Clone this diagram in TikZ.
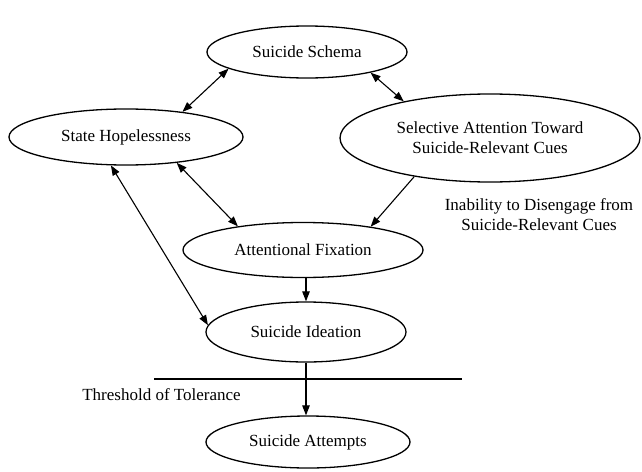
\documentclass[tikz,border=0pt]{standalone}
\usepackage{fontspec}
\setmainfont{Liberation Serif}[Scale=1.0]
\usetikzlibrary{shapes.geometric,arrows.meta}
\begin{document}
\begin{tikzpicture}[x=1pt,y=-1pt,
  oval/.style={ellipse,draw,line width=1.3pt,inner sep=0pt,align=center,
    font=\rmfamily\fontsize{17}{20}\selectfont},
  lbl/.style={align=center,font=\rmfamily\fontsize{17}{20}\selectfont,inner sep=0pt},
  tip/.tip={Triangle[length=10pt,width=7.5pt]},
  conn/.style={line width=1.1pt,-tip},
  bconn/.style={line width=1.1pt,tip-tip}]
\useasboundingbox (0,0) rectangle (642,471);
\node[oval,minimum width=200pt,minimum height=52pt] (schema) at (307,52) {Suicide Schema};
\node[oval,minimum width=234pt,minimum height=56pt] (hope) at (126,137) {State Hopelessness};
\node[oval,minimum width=300pt,minimum height=88pt] (sel) at (490,138) {Selective Attention Toward\\Suicide-Relevant Cues};
\node[oval,minimum width=240pt,minimum height=55pt] (fix) at (303,250) {Attentional Fixation};
\node[oval,minimum width=200pt,minimum height=60pt] (ide) at (306,332) {Suicide Ideation};
\node[oval,minimum width=204pt,minimum height=52pt] (att) at (308,442) {Suicide Attempts};
\node[lbl] (thr) at (161.5,395) {Threshold of Tolerance};
\node[lbl] (inab) at (539,215) {Inability to Disengage from\\Suicide-Relevant Cues};
\coordinate (tl) at (154,379);
\coordinate (tr) at (462,379);
\draw[line width=2.4pt] (tl) -- (tr);
\draw[bconn] (schema.192.7) -- (hope.24.7);
\draw[bconn] (schema.342.7) -- (sel.157.8);
\draw[bconn] (hope.333.8) -- (fix.160.7);
\draw[bconn] (hope.242.6) -- (ide.176);
\draw[conn] (sel.207.8) -- (fix.19.1);
\draw[conn] (ide.north |- fix.south) -- (ide.north);
\draw[conn] (ide.south) -- (ide.south |- att.north);
\end{tikzpicture}
\end{document}
